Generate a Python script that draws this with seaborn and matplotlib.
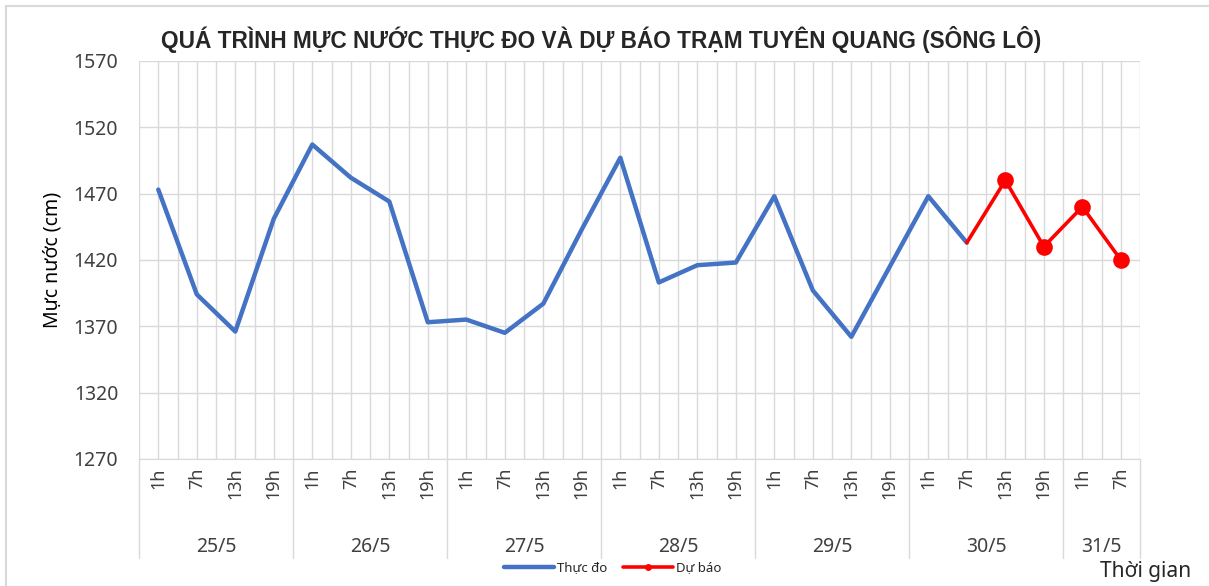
import matplotlib
matplotlib.use("Agg")
import matplotlib.pyplot as plt
import matplotlib.transforms as mtransforms
import numpy as np
import pandas as pd
import seaborn as sns

sns.set_style("white")
plt.rcParams["font.family"] = ["Noto Sans", "DejaVu Sans"]

# --- data -----------------------------------------------------------------
dates = ["25/5", "26/5", "27/5", "28/5", "29/5", "30/5", "31/5"]
hours_per_date = [["1h", "7h", "13h", "19h"]] * 6 + [["1h", "7h"]]
observed = [1473, 1394, 1366, 1451, 1507, 1482, 1464, 1373,
            1375, 1365, 1387, 1443, 1497, 1403, 1416, 1418,
            1468, 1397, 1362, 1415, 1468, 1433]
forecast = [1433, 1480, 1430, 1460, 1420]
y_ticks = [1270, 1320, 1370, 1420, 1470, 1520, 1570]

hour_labels = [h for hs in hours_per_date for h in hs]
n = len(hour_labels)
obs_df = pd.DataFrame({"x": np.arange(len(observed)), "level": observed})
fc_start = len(observed) - 1
fc_df = pd.DataFrame({"x": np.arange(fc_start, fc_start + len(forecast)), "level": forecast})

BLUE = "#4472C4"
RED = "#FF0000"
GRID = "#D9D9D9"

fig = plt.figure(figsize=(12.09, 5.86), dpi=100)
ax = fig.add_axes([0.115, 0.217, 0.828, 0.679])

sns.lineplot(data=obs_df, x="x", y="level", ax=ax, color=BLUE, lw=3.2,
             label="Thực đo")
# first forecast value is the last observation: no marker there
sns.lineplot(data=fc_df, x="x", y="level", ax=ax, color=RED, lw=2.6,
             marker="o", markersize=12, markeredgewidth=0,
             markevery=list(range(1, len(forecast))), label="Dự báo")

ax.set_xlim(-0.5, n - 0.5)
ax.set_ylim(y_ticks[0], y_ticks[-1])
ax.set_yticks(y_ticks)
ax.set_xticks(np.arange(n))
ax.set_xticklabels(hour_labels, rotation=90, fontsize=13, color="#262626")
ax.set_xticks(np.arange(n + 1) - 0.5, minor=True)
ax.tick_params(axis="both", length=0, labelsize=14, colors="#404040")
ax.tick_params(axis="x", labelsize=13, pad=6)
ax.tick_params(axis="y", pad=15)
ax.grid(True, which="both", axis="x", color=GRID, lw=1)
ax.grid(True, which="major", axis="y", color=GRID, lw=1)
for side in ["top", "right", "left"]:
    ax.spines[side].set_visible(False)
ax.spines["bottom"].set_color(GRID)
ax.set_xlabel("")
ax.set_ylabel("Mực nước (cm)", fontsize=14, color="#000000", labelpad=8)

# second level of the category axis (dates)
trans = mtransforms.blended_transform_factory(ax.transData, ax.transAxes)
edges = np.concatenate([[0], np.cumsum([len(h) for h in hours_per_date])]) - 0.5
for d, lo, hi in zip(dates, edges[:-1], edges[1:]):
    ax.text((lo + hi) / 2, -0.222, d, transform=trans, ha="center", va="center",
            fontsize=14, color="#404040")
for e in edges:
    ax.plot([e, e], [0, -0.25], transform=trans, color=GRID, lw=1, clip_on=False)

fig.suptitle("QUÁ TRÌNH MỰC NƯỚC THỰC ĐO VÀ DỰ BÁO TRẠM TUYÊN QUANG (SÔNG LÔ)",
             fontsize=16.3, fontweight="bold", y=0.955, x=0.497,
             family=["Liberation Sans", "DejaVu Sans"])

leg = ax.legend(loc="center", bbox_to_anchor=(0.473, -0.274), ncol=2, frameon=False,
                fontsize=9.5, handlelength=3.8, columnspacing=1.2, handletextpad=0.2)
for h in leg.legend_handles:
    h.set_markersize(5)
fig.text(0.985, 0.025, "Thời gian", ha="right", va="center", fontsize=15, color="#262626")

# chart-area border
fig.add_artist(plt.Line2D([0.005, 1.0], [0.99, 0.99], color="#D9D9D9", lw=1.5))
fig.add_artist(plt.Line2D([0.005, 0.005], [0.0, 0.99], color="#D9D9D9", lw=1.5))

fig.savefig("out.png", dpi=100)
